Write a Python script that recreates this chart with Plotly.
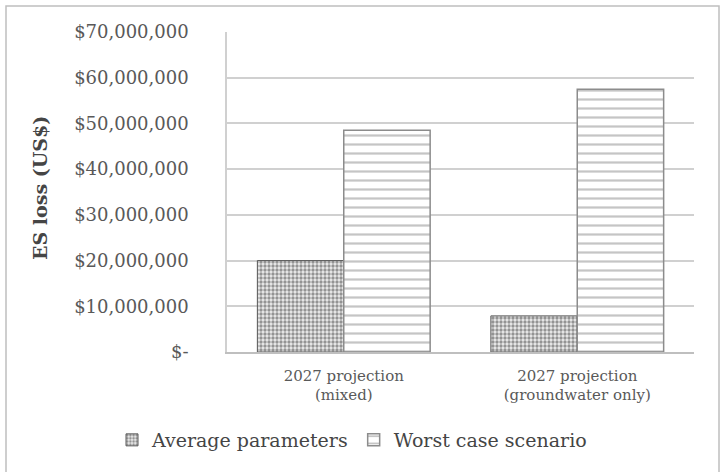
import plotly.graph_objects as go

categories = ["2027 projection<br>(mixed)", "2027 projection<br>(groundwater only)"]
average_parameters = [20000000, 7900000]
worst_case = [48500000, 57500000]
tick_vals = [0, 10000000, 20000000, 30000000, 40000000, 50000000, 60000000, 70000000]
tick_text = ["$-", "$10,000,000", "$20,000,000", "$30,000,000", "$40,000,000",
             "$50,000,000", "$60,000,000", "$70,000,000"]

FONT = "DejaVu Serif"
TXT = "#595959"

fig = go.Figure()
fig.add_trace(go.Bar(
    x=categories, y=average_parameters, name="Average parameters",
    marker=dict(color="#e6e6e6", line=dict(color="#595959", width=1),
                pattern=dict(shape=".", fgcolor="#3a3a3a", bgcolor="#ececec",
                             size=4, solidity=0.55, fillmode="overlay")),
))
fig.add_trace(go.Bar(
    x=categories, y=worst_case, name="Worst case scenario",
    marker=dict(color="white", line=dict(color="#8c8c8c", width=1.5),
                pattern=dict(shape="-", fgcolor="#8c8c8c", bgcolor="white",
                             size=9, solidity=0.25, fillmode="overlay")),
))

W, H = 726, 472
L, R, T, B = 227, 32, 32, 120
pw, ph = W - L - R, H - T - B

def px(x):
    return (x - L) / pw

def py(y):
    return (H - B - y) / ph

fig.update_layout(
    width=W, height=H,
    margin=dict(l=L, r=R, t=T, b=B, autoexpand=False),
    paper_bgcolor="white", plot_bgcolor="white",
    barmode="group", bargap=0.26, bargroupgap=0,
    font=dict(family=FONT, color=TXT, size=18),
    showlegend=True,
    legend=dict(orientation="h",
                x=px(112), xanchor="left", y=py(440), yanchor="middle",
                font=dict(family=FONT, size=19, color="#454545"), itemwidth=30,
                traceorder="normal"),
    xaxis=dict(showline=True, linecolor="#bfbfbf", linewidth=1.5, showgrid=False,
               ticks="", tickfont=dict(family=FONT, size=15, color=TXT),
               ticklabelstandoff=9),
    yaxis=dict(range=[0, 70000000], tickvals=tick_vals, ticktext=tick_text,
               showgrid=True, gridcolor="#d0d0d0", gridwidth=1.5,
               showline=True, linecolor="#d0d0d0", linewidth=1.5,
               ticks="", tickfont=dict(family=FONT, size=18, color=TXT),
               ticklabelstandoff=33, zeroline=False),
    annotations=[dict(text="<b>ES loss (US$)</b>", xref="paper", yref="paper",
                      x=px(40), y=py(188), textangle=-90, showarrow=False,
                      font=dict(family=FONT, size=19, color="#454545"),
                      xanchor="center", yanchor="middle")],
    shapes=[dict(type="rect", xref="paper", yref="paper",
                 x0=px(6), x1=px(719), y0=py(490), y1=py(6),
                 line=dict(color="#bfbfbf", width=1.5), layer="below")],
)

fig.write_html("out.html")
